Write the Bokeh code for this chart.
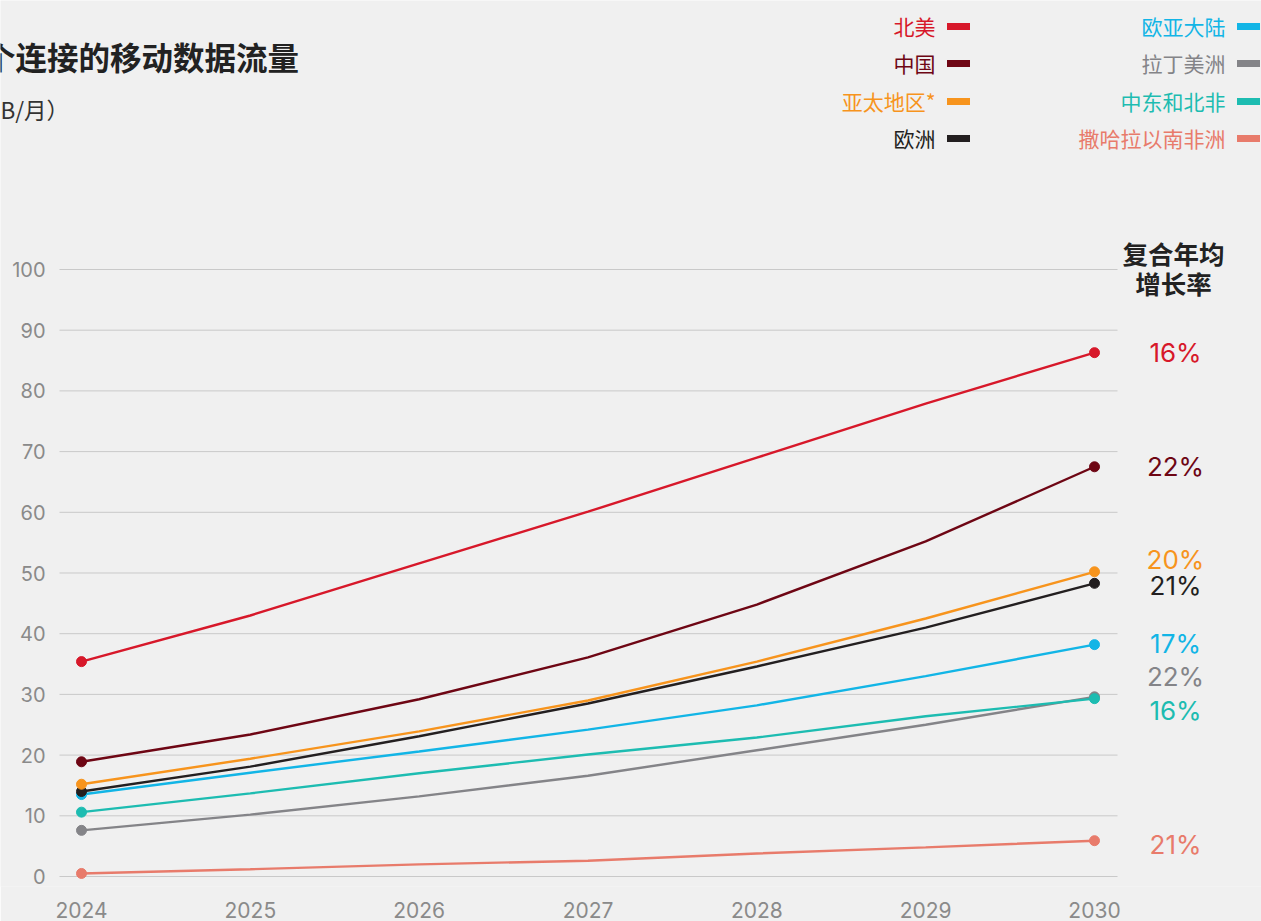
from bokeh.plotting import figure
from bokeh.models import Range1d, FixedTicker, Label
from bokeh.core.properties import value
from bokeh.embed import file_html
from bokeh.resources import INLINE

# ---------------- data ----------------
years = [2024, 2025, 2026, 2027, 2028, 2029, 2030]
y_ticks = [0, 10, 20, 30, 40, 50, 60, 70, 80, 90, 100]
y_tick_labels = ["0", "10", "20", "30", "40", "50", "60", "70", "80", "90", "100"]

north_america = [35.4, 43.0, 51.6, 60.1, 69.0, 77.9, 86.3]
china = [18.9, 23.4, 29.2, 36.1, 44.8, 55.2, 67.5]
asia_pacific = [15.2, 19.4, 23.9, 29.0, 35.4, 42.5, 50.2]
europe = [14.0, 18.1, 23.1, 28.5, 34.6, 41.0, 48.3]
eurasia = [13.5, 17.1, 20.6, 24.2, 28.2, 33.0, 38.2]
latin_america = [7.6, 10.2, 13.2, 16.6, 20.8, 25.0, 29.6]
mena = [10.6, 13.7, 17.0, 20.1, 22.9, 26.4, 29.3]
ssa = [0.5, 1.2, 2.0, 2.6, 3.8, 4.8, 5.9]

names = ["北美", "中国", "亚太地区*", "欧洲", "欧亚大陆", "拉丁美洲", "中东和北非", "撒哈拉以南非洲"]
series = [north_america, china, asia_pacific, europe, eurasia, latin_america, mena, ssa]
colors = ["#d7182a", "#6e0614", "#f7941d", "#231f20", "#12b5e6", "#848488", "#1dbcb1", "#e87b6b"]
cagr = ["16%", "22%", "20%", "21%", "17%", "22%", "16%", "21%"]
# vertical positions of the CAGR labels (value units, spread to avoid overlap)
cagr_label_y = [86.3, 67.5, 52.3, 48.0, 38.4, 33.0, 27.3, 5.3]

title = "每个连接的移动数据流量"
subtitle = "（GB/月）"
cagr_header = ["复合年均", "增长率"]

# ---------------- layout geometry ----------------
BG = "#f0f0f0"
W, H = 1261, 921
PX_X0 = 81.0            # canvas x of 2024
PX_PER_YEAR = 1013.0 / 6
PX_Y0 = 876.0           # canvas y of value 0
PX_PER_UNIT = 6.07
BOTTOM = 35
CJK = "Noto Sans CJK SC"
NUM = "Inter"


def dx(cx):
    """canvas pixel x -> data x"""
    return 2024 + (cx - PX_X0) / PX_PER_YEAR


def dy(cy):
    """canvas pixel y -> data y"""
    return (PX_Y0 - cy) / PX_PER_UNIT


x_range = Range1d(dx(0), dx(W))
y_range = Range1d(dy(H - BOTTOM), dy(0))

p = figure(width=W, height=H, x_range=x_range, y_range=y_range,
           output_backend="svg", toolbar_location=None, y_axis_location=None,
           min_border_left=0, min_border_right=0, min_border_top=0,
           min_border_bottom=BOTTOM)
p.background_fill_color = BG
p.border_fill_color = BG
p.outline_line_color = None
p.xgrid.visible = False
p.ygrid.visible = False

ax = p.xaxis[0]
ax.axis_line_color = None
ax.major_tick_line_color = None
ax.minor_tick_line_color = None
ax.major_label_text_color = "#8a8a8a"
ax.major_label_text_font = NUM
ax.major_label_text_font_size = "21px"
ax.ticker = FixedTicker(ticks=years)
ax.major_label_standoff = 9

# y grid lines and y tick labels
p.segment(x0=[dx(59)] * len(y_ticks), x1=[dx(1117)] * len(y_ticks),
          y0=y_ticks, y1=y_ticks, line_color="#c9c9c9", line_width=1)
p.text(x=[dx(45)] * len(y_ticks), y=y_ticks, text=y_tick_labels,
       text_color="#8a8a8a", text_font=value(NUM), text_font_size="20px",
       text_align="right", text_baseline="middle")

# series lines
draw_order = [7, 5, 6, 4, 3, 2, 1, 0]
for i in draw_order:
    p.line(years, series[i], line_color=colors[i], line_width=2.4)
for i in draw_order:
    p.scatter([years[0], years[-1]], [series[i][0], series[i][-1]],
              size=10, fill_color=colors[i], line_color=colors[i])

# CAGR labels
for i in range(len(names)):
    p.add_layout(Label(x=dx(1175), y=cagr_label_y[i], text=cagr[i],
                       text_color=colors[i], text_font=NUM,
                       text_font_size="26px", text_align="center",
                       text_baseline="middle"))
for k, t in enumerate(cagr_header):
    p.add_layout(Label(x=dx(1173), y=dy(252 + 30 * k), text=t,
                       text_color="#222222", text_font=CJK,
                       text_font_style="bold", text_font_size="25.5px",
                       text_align="center", text_baseline="middle"))

# title / subtitle (partly off the left edge, as in the reference)
p.add_layout(Label(x=dx(-48), y=dy(55), text=title, text_color="#222222",
                   text_font=CJK, text_font_style="bold",
                   text_font_size="31.5px", text_align="left",
                   text_baseline="middle"))
p.add_layout(Label(x=dx(-38), y=dy(108), text=subtitle, text_color="#333333",
                   text_font=CJK, text_font_size="22.5px",
                   text_align="left", text_baseline="middle"))

# legend (two columns, text right-aligned, swatch on the right)
rows_y = [25, 62, 100, 137]
for i in range(len(names)):
    col, row = divmod(i, 4)
    text_right = 935 if col == 0 else 1225
    sw_center = 958 if col == 0 else 1248
    p.add_layout(Label(x=dx(text_right), y=dy(rows_y[row]), text=names[i],
                       text_color=colors[i], text_font=CJK,
                       text_font_size="21px", text_align="right",
                       text_baseline="middle"))
    p.rect(x=[dx(sw_center)], y=[dy(rows_y[row] + 1)], width=23, height=7,
           width_units="screen", height_units="screen",
           fill_color=colors[i], line_color=None)

open("out.html", "w").write(file_html(p, INLINE))
